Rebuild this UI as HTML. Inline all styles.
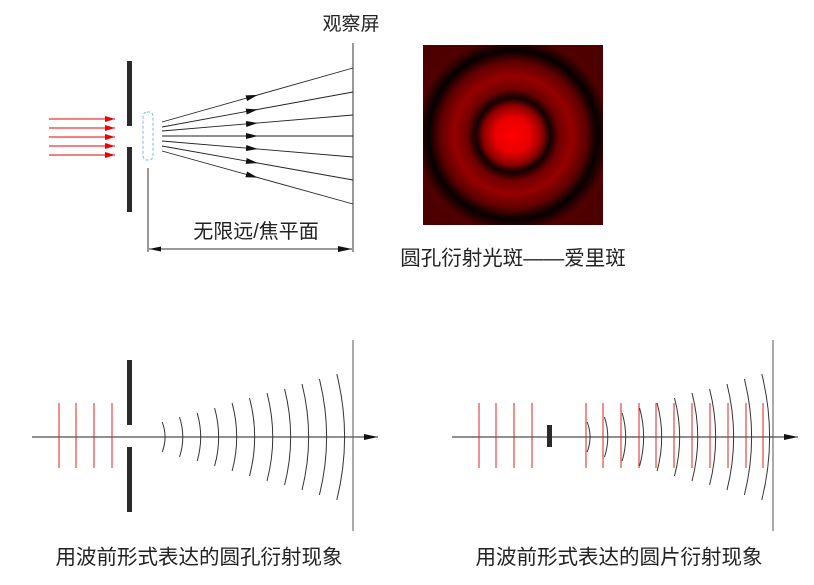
<!DOCTYPE html>
<html><head><meta charset="utf-8"><style>
html,body{margin:0;padding:0;background:#fff;}
svg{display:block;}
text{font-family:"Liberation Sans","Noto Sans CJK SC",sans-serif;fill:#222;}
</style></head><body>
<svg width="814" height="585" viewBox="0 0 814 585" xmlns="http://www.w3.org/2000/svg">
<defs>
<marker id="ra" markerWidth="10" markerHeight="6" refX="10" refY="3" orient="auto" markerUnits="userSpaceOnUse"><path d="M0,0 L10,3 L0,6 z" fill="#e00"/></marker>
<marker id="ba" markerWidth="12" markerHeight="6" refX="6" refY="3" orient="auto" markerUnits="userSpaceOnUse"><path d="M0,0 L12,3 L0,6 z" fill="#111"/></marker>
<marker id="ax" markerWidth="14" markerHeight="6" refX="14" refY="3" orient="auto" markerUnits="userSpaceOnUse"><path d="M0,0 L14,3 L0,6 z" fill="#111"/></marker>
<marker id="dl" markerWidth="12" markerHeight="5" refX="0" refY="2.5" orient="auto" markerUnits="userSpaceOnUse"><path d="M12,0 L0,2.5 L12,5 z" fill="#111"/></marker>
<radialGradient id="airy" cx="513" cy="135" r="128" gradientUnits="userSpaceOnUse">
<stop offset="0" stop-color="#ff0000"/>
<stop offset="0.14" stop-color="#e80000"/>
<stop offset="0.23" stop-color="#900000"/>
<stop offset="0.29" stop-color="#100000"/>
<stop offset="0.36" stop-color="#700000"/>
<stop offset="0.46" stop-color="#960000"/>
<stop offset="0.57" stop-color="#600000"/>
<stop offset="0.66" stop-color="#050000"/>
<stop offset="0.76" stop-color="#500000"/>
<stop offset="1" stop-color="#480000"/>
</radialGradient>
</defs>

<!-- TOP LEFT -->
<rect x="127" y="61" width="5" height="65" fill="#2a2a2a"/>
<rect x="127" y="147" width="5" height="65" fill="#2a2a2a"/>
<g stroke="#e00" stroke-width="1" marker-end="url(#ra)">
<line x1="49" y1="119" x2="115" y2="119"/>
<line x1="49" y1="128" x2="115" y2="128"/>
<line x1="49" y1="137" x2="115" y2="137"/>
<line x1="49" y1="146" x2="115" y2="146"/>
<line x1="49" y1="155" x2="115" y2="155"/>
</g>
<rect x="143" y="112" width="10" height="48" rx="4" fill="none" stroke="#7ab8e0" stroke-width="1" stroke-dasharray="3,2"/>
<g stroke="#222" stroke-width="0.9">
<line x1="162" y1="122" x2="353" y2="68"/>
<line x1="162" y1="127" x2="353" y2="92"/>
<line x1="162" y1="131" x2="353" y2="115"/>
<line x1="162" y1="136" x2="353" y2="136"/>
<line x1="162" y1="141" x2="353" y2="157"/>
<line x1="162" y1="146" x2="353" y2="180"/>
<line x1="162" y1="151" x2="353" y2="204"/>
</g>
<g stroke="none" fill="none" marker-end="url(#ba)">
<line x1="240" y1="100" x2="252" y2="96.6"/>
<line x1="240" y1="112.7" x2="252" y2="110.5"/>
<line x1="240" y1="124.5" x2="252" y2="123.5"/>
<line x1="240" y1="136" x2="252" y2="136"/>
<line x1="240" y1="147.5" x2="252" y2="148.5"/>
<line x1="240" y1="159.9" x2="252" y2="162"/>
<line x1="240" y1="172.6" x2="252" y2="176"/>
</g>
<line x1="353" y1="43" x2="353" y2="252" stroke="#333" stroke-width="1"/>
<line x1="148" y1="168" x2="148" y2="252" stroke="#333" stroke-width="1"/>
<line x1="149" y1="249" x2="352" y2="249" stroke="#333" stroke-width="1" marker-start="url(#dl)" marker-end="url(#ax)"/>
<text x="256" y="238" font-size="20" text-anchor="middle">无限远/焦平面</text>
<text x="351" y="30" font-size="19" text-anchor="middle">观察屏</text>

<!-- AIRY -->
<rect x="423" y="45" width="180" height="180" fill="url(#airy)"/>
<text x="513" y="265" font-size="20.5" text-anchor="middle">圆孔衍射光斑——爱里斑</text>

<!-- BOTTOM LEFT -->
<line x1="32" y1="437" x2="378" y2="437" stroke="#222" stroke-width="1" marker-end="url(#ax)"/>
<g stroke="#d22" stroke-width="1">
<line x1="59" y1="403" x2="59" y2="468"/>
<line x1="76" y1="403" x2="76" y2="468"/>
<line x1="94" y1="403" x2="94" y2="468"/>
<line x1="112" y1="403" x2="112" y2="468"/>
</g>
<rect x="127" y="360" width="5" height="65" fill="#2a2a2a"/>
<rect x="127" y="447" width="5" height="65" fill="#2a2a2a"/>
<line x1="353" y1="340" x2="353" y2="531" stroke="#555" stroke-width="1"/>
<g id="arcs" fill="none" stroke="#333" stroke-width="1">
<path d="M162.2,422 A42,42 0 0 1 162.2,452"/>
<path d="M179.5,417 A64,64 0 0 1 179.5,457"/>
<path d="M197.2,413 A86,86 0 0 1 197.2,461"/>
<path d="M214.6,408 A108,108 0 0 1 214.6,466"/>
<path d="M232.1,403 A130,130 0 0 1 232.1,471"/>
<path d="M249.5,398 A152,152 0 0 1 249.5,476"/>
<path d="M267,393 A174,174 0 0 1 267,481"/>
<path d="M284.6,389 A196,196 0 0 1 284.6,485"/>
<path d="M302,384 A218,218 0 0 1 302,490"/>
<path d="M319.4,379 A240,240 0 0 1 319.4,495"/>
<path d="M336.8,374 A262,262 0 0 1 336.8,500"/>
</g>
<text x="199" y="564" font-size="20.5" text-anchor="middle">用波前形式表达的圆孔衍射现象</text>

<!-- BOTTOM RIGHT -->
<line x1="452" y1="437" x2="798" y2="437" stroke="#222" stroke-width="1" marker-end="url(#ax)"/>
<g stroke="#d22" stroke-width="1">
<line x1="479" y1="403" x2="479" y2="468"/>
<line x1="496" y1="403" x2="496" y2="468"/>
<line x1="514" y1="403" x2="514" y2="468"/>
<line x1="532" y1="403" x2="532" y2="468"/>
<line x1="586" y1="403" x2="586" y2="468"/>
<line x1="603" y1="403" x2="603" y2="468"/>
<line x1="621" y1="403" x2="621" y2="468"/>
<line x1="639" y1="403" x2="639" y2="468"/>
<line x1="656" y1="403" x2="656" y2="468"/>
<line x1="674" y1="403" x2="674" y2="468"/>
<line x1="692" y1="403" x2="692" y2="468"/>
<line x1="710" y1="403" x2="710" y2="468"/>
<line x1="728" y1="403" x2="728" y2="468"/>
<line x1="746" y1="403" x2="746" y2="468"/>
<line x1="763" y1="403" x2="763" y2="468"/>
</g>
<rect x="547" y="425" width="5" height="22" fill="#2a2a2a"/>
<line x1="773" y1="340" x2="773" y2="531" stroke="#555" stroke-width="1"/>
<use href="#arcs" transform="translate(425,0)"/>
<text x="619" y="564" font-size="20.5" text-anchor="middle">用波前形式表达的圆片衍射现象</text>
</svg>
</body></html>
